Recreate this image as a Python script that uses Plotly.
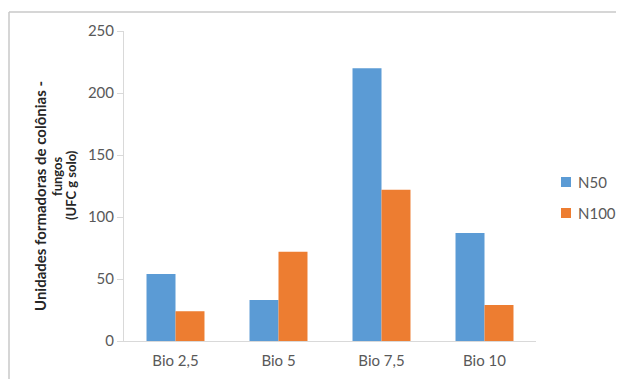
import plotly.graph_objects as go

categories = ["Bio 2,5", "Bio 5", "Bio 7,5", "Bio 10"]
n50 = [54, 33, 220, 87]
n100 = [24, 72, 122, 29]
series_names = ["N50", "N100"]
series_colors = ["#5B9BD5", "#ED7D31"]
y_ticks = [0, 50, 100, 150, 200, 250]
y_title_lines = ["Unidades formadoras de colônias -", "fungos", "(UFC g solo)"]

# page has an 8px body margin: figure origin sits at page (8, 8)
OFF = 8
W, H = 616, 371
ML, MR, MT, MB = 116, 88, 23, 38
PW, PH = W - ML - MR, H - MT - MB

def px_x(p):  # page pixel -> paper x
    return (p - OFF - ML) / PW

def px_y(p):  # page pixel -> paper y
    return (H - MB - (p - OFF)) / PH

FONT = "Lato"
TXT = "#595959"

fig = go.Figure()
for name, vals, col in zip(series_names, [n50, n100], series_colors):
    fig.add_trace(go.Bar(x=categories, y=vals, name=name,
                         marker=dict(color=col, line=dict(width=0)),
                         showlegend=False))

fig.update_layout(
    width=W, height=H,
    margin=dict(l=ML, r=MR, t=MT, b=MB, autoexpand=False),
    paper_bgcolor="white", plot_bgcolor="white",
    barmode="group", bargap=0.437, bargroupgap=0,
    font=dict(family=FONT, size=14, color=TXT),
    showlegend=False,
)
fig.update_xaxes(showline=True, linecolor="#D9D9D9", linewidth=1,
                 showgrid=False, ticks="", ticklabelstandoff=6,
                 tickfont=dict(family=FONT, size=15, color=TXT),
                 fixedrange=True)
fig.update_yaxes(range=[0, 250], tickvals=y_ticks, showline=True, linecolor="#D9D9D9",
                 linewidth=1, showgrid=False, zeroline=False, ticks="outside", ticklen=6,
                 tickcolor="#D9D9D9", tickfont=dict(family=FONT, size=15, color=TXT),
                 fixedrange=True)

# legend drawn by hand (square + label), placed as in the reference
legend_rows = [182, 213]
for name, col, yc in zip(series_names, series_colors, legend_rows):
    fig.add_shape(type="rect", xref="paper", yref="paper",
                  x0=px_x(561), x1=px_x(571), y0=px_y(yc - 5), y1=px_y(yc + 5),
                  fillcolor=col, line=dict(width=0))
    fig.add_annotation(text=name, x=px_x(576), y=px_y(yc), xref="paper", yref="paper",
                       xanchor="left", yanchor="middle", showarrow=False,
                       font=dict(family=FONT, size=15, color=TXT))

# y-axis title, one rotated line each
title_pos = [(40, 196, 15), (57, 176, 13), (71, 185, 13)]
for line, (xp, yp, fs) in zip(y_title_lines, title_pos):
    fig.add_annotation(
        text="<b>" + line + "</b>",
        x=px_x(xp), y=px_y(yp), xref="paper", yref="paper",
        xanchor="center", yanchor="middle", textangle=-90, showarrow=False,
        font=dict(family=FONT, size=fs, color="#262626"),
    )

# outer chart frame
fig.add_shape(type="line", xref="paper", yref="paper",
              x0=px_x(9), x1=px_x(9), y0=px_y(12), y1=px_y(400),
              line=dict(color="#C8C8C8", width=1.5))
fig.add_shape(type="line", xref="paper", yref="paper",
              x0=px_x(9), x1=px_x(640), y0=px_y(12), y1=px_y(12),
              line=dict(color="#C8C8C8", width=1.5))

fig.write_html("out.html")
